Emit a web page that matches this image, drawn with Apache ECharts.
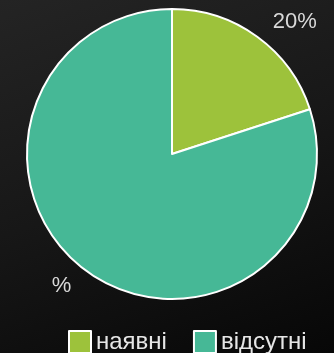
<!DOCTYPE html>
<html>
<head>
<meta charset="utf-8">
<script src="https://cdn.jsdelivr.net/npm/echarts@6/dist/echarts.min.js"></script>
<style>
  html, body { margin: 0; padding: 0; }
  #chart {
    width: 334px; height: 353px;
    background: linear-gradient(160deg, #242424 0%, #171717 50%, #070707 100%);
  }
</style>
</head>
<body>
<div id="chart"></div>
<script>
// Share of items present vs. absent
const categories = ['наявні', 'відсутні'];
const values = [20, 80];
const valueLabels = ['20%', '%'];
const colors = ['#9dc23b', '#46b896'];

const chart = echarts.init(document.getElementById('chart'), null, { renderer: 'canvas' });

chart.setOption({
  backgroundColor: 'transparent',
  animation: false,
  legend: {
    data: categories,
    left: 68,
    top: 330,
    padding: 0,
    itemWidth: 22,
    itemHeight: 22,
    itemGap: 26,
    icon: 'rect',
    textStyle: {
      color: '#e6e6e6',
      fontFamily: 'Liberation Sans, Arial, sans-serif',
      fontSize: 24,
      padding: [10, 0, 0, 0]
    }
  },
  series: [{
    type: 'pie',
    center: [172, 154],
    radius: 145,
    startAngle: 90,
    clockwise: true,
    avoidLabelOverlap: false,
    itemStyle: { borderColor: '#ffffff', borderWidth: 2 },
    label: {
      show: true,
      position: 'outside',
      color: '#d9d9d9',
      fontFamily: 'Liberation Sans, Arial, sans-serif',
      fontSize: 22,
      formatter: p => valueLabels[p.dataIndex]
    },
    labelLine: { show: false, length: 18, length2: 0 },
    emphasis: { disabled: true },
    data: categories.map((name, i) => ({
      name,
      value: values[i],
      itemStyle: { color: colors[i] }
    }))
  }]
});
</script>
</body>
</html>
